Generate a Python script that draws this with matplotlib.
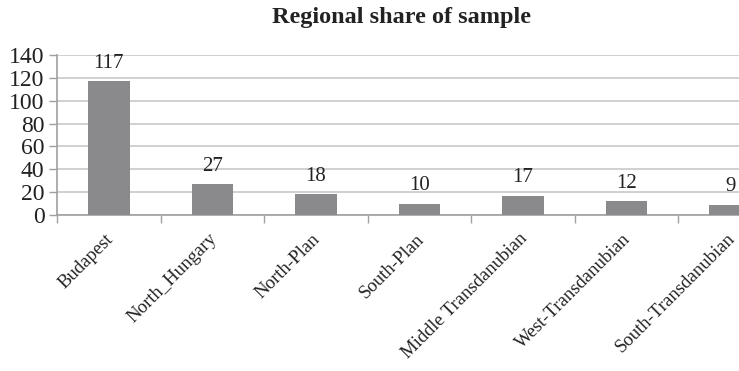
import matplotlib.pyplot as plt
import matplotlib.transforms as mtransforms
import numpy as np

regions = ["Budapest", "North_Hungary", "North-Plan", "South-Plan",
           "Middle Transdanubian", "West-Transdanubian", "South-Transdanubian"]
counts = [117, 27, 18, 10, 17, 12, 9]
y_ticks = [0, 20, 40, 60, 80, 100, 120, 140]

plt.rcParams['font.family'] = ['Liberation Serif', 'DejaVu Serif']

fig = plt.figure(figsize=(7.39, 3.71), dpi=100)
# plot area runs past the right edge of the figure
ax = fig.add_axes([57 / 739, 156 / 371, 725 / 739, 160 / 371])

x = np.arange(len(regions))
ax.bar(x, counts, width=0.4, color="#8a8a8c", zorder=3)

for xi, c in zip(x, counts):
    ax.annotate(str(c), (xi, c), xytext=(0, 6), textcoords="offset points",
                ha="center", va="bottom", fontsize=15, color="#222222")

ax.set_xlim(-0.5, len(regions) - 0.5)
ax.set_ylim(0, 140)
ax.set_yticks(y_ticks)
ax.set_yticklabels([str(t) for t in y_ticks], fontsize=17, color="#222222")
ax.yaxis.grid(True, color="#c8c8c8", linewidth=1.2, zorder=0)

# category ticks sit on the boundaries between bars
ax.set_xticks(np.arange(len(regions) + 1) - 0.5, minor=False)
ax.set_xticklabels([])
ax.tick_params(axis="x", length=6, color="#a0a0a0", width=1)
ax.tick_params(axis="y", length=6, color="#a0a0a0", width=1, pad=3)

offset = mtransforms.ScaledTranslation(-3 / 72, -11 / 72, fig.dpi_scale_trans)
for xi, name in zip(x, regions):
    ax.text(xi, 0, name, rotation=45, ha="right", va="top",
            rotation_mode="anchor", fontsize=13.5, color="#222222",
            transform=ax.get_xaxis_transform() + offset)

for side in ("top", "right"):
    ax.spines[side].set_visible(False)
for side in ("left", "bottom"):
    ax.spines[side].set_color("#a0a0a0")
    ax.spines[side].set_linewidth(1.2)

fig.text(401 / 739, 1 - 17 / 371, "Regional share of sample", ha="center",
         va="center", fontsize=17.5, fontweight="bold", color="#222222")

fig.savefig("out.png", dpi=100)
